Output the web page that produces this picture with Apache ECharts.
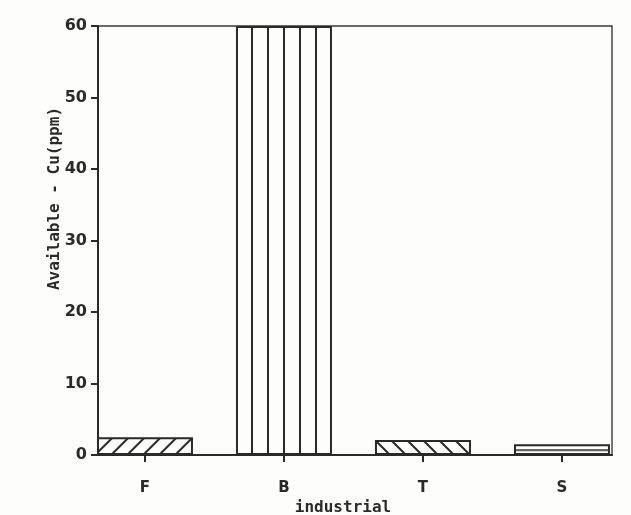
<!DOCTYPE html>
<html><head><meta charset="utf-8">
<script src="https://cdn.jsdelivr.net/npm/echarts@6/dist/echarts.min.js"></script>
<style>html,body{margin:0;padding:0;background:#fdfdfb}#c{width:631px;height:515px}</style>
</head><body><div id="c"></div>
<script>
// ---- data ----
const categories = ['F', 'B', 'T', 'S'];
const values = [2.5, 60, 2.1, 1.5];
const yTicks = [0, 10, 20, 30, 40, 50, 60];
const xName = 'industrial';
const yName = 'Available - Cu(ppm)';

// ---- styling ----
const ink = '#2a2a2a';
const barW = 96;

function makeCanvas(w, h, draw) {
  const c = document.createElement('canvas');
  c.width = w; c.height = h;
  const ctx = c.getContext('2d');
  ctx.strokeStyle = ink; ctx.fillStyle = ink; ctx.lineWidth = 2;
  draw(ctx, w, h);
  return c;
}
function diagPattern(dir, ox, oy) {
  const s = 16;
  const img = makeCanvas(s, s, (ctx) => {
    ctx.beginPath();
    if (dir > 0) { // "/"
      ctx.moveTo(-2, s + 2); ctx.lineTo(s + 2, -2);
      ctx.moveTo(-2, 2); ctx.lineTo(2, -2);
      ctx.moveTo(s - 2, s + 2); ctx.lineTo(s + 2, s - 2);
    } else { // "\"
      ctx.moveTo(-2, -2); ctx.lineTo(s + 2, s + 2);
      ctx.moveTo(s - 2, -2); ctx.lineTo(s + 2, 2);
      ctx.moveTo(-2, s - 2); ctx.lineTo(2, s + 2);
    }
    ctx.stroke();
  });
  return { image: img, repeat: 'repeat', x: ox, y: oy };
}
function vertPattern(ox) {
  const img = makeCanvas(16, 4, (ctx) => { ctx.fillRect(0, 0, 2, 4); });
  return { image: img, repeat: 'repeat', x: ox - 1, y: 0 };
}
function horizPattern(top, h) {
  const H = Math.max(2, Math.round(h));
  const img = makeCanvas(8, H, (ctx) => { ctx.fillRect(0, Math.round(H / 2) - 1, 8, 1.6); });
  return { image: img, repeat: 'repeat', x: 0, y: top };
}

const chart = echarts.init(document.getElementById('c'), null, { renderer: 'canvas' });
const idx = categories.map((_, i) => i);

function buildData(geom) {
  return values.map((v, i) => {
    let color = '#fdfdfb';
    if (geom) {
      const g = geom[i];
      if (i === 0) color = diagPattern(1, g.left, g.top);
      else if (i === 1) color = vertPattern(g.left);
      else if (i === 2) color = diagPattern(-1, g.left, g.top);
      else color = horizPattern(g.top, g.h);
    }
    return { value: [i, v], itemStyle: { color: color } };
  });
}

const option = {
  backgroundColor: '#fdfdfb',
  animation: false,
  grid: { left: 98, right: 19, top: 26, bottom: 60, outerBoundsMode: 'none', containLabel: false,
    show: true, borderColor: '#3a3a3a', borderWidth: 1.4, backgroundColor: 'transparent' },
  xAxis: {
    type: 'value', min: -0.338, max: 3.36,
    axisLine: { show: true, onZero: false, lineStyle: { color: ink, width: 2 } },
    axisTick: { show: true, customValues: idx, length: 7, lineStyle: { color: ink, width: 2 } },
    axisLabel: { customValues: idx, formatter: (v) => categories[Math.round(v)] || '', margin: 26,
      color: ink, fontFamily: 'DejaVu Sans', fontWeight: 'bold', fontSize: 15 },
    splitLine: { show: false },
    name: xName, nameLocation: 'middle', nameGap: 45, nameMoveOverlap: false,
    nameTextStyle: { color: ink, fontFamily: 'DejaVu Sans Mono', fontWeight: 'bold', fontSize: 16, padding: [0, 24, 0, 0] }
  },
  yAxis: {
    type: 'value', min: 0, max: 60, interval: 10,
    axisLine: { show: true, onZero: false, lineStyle: { color: ink, width: 2 } },
    axisTick: { show: true, length: 7, lineStyle: { color: ink, width: 2 } },
    axisLabel: { margin: 11, color: ink, fontFamily: 'DejaVu Sans', fontWeight: 'bold', fontSize: 16,
      formatter: (v) => yTicks.includes(v) ? String(v) : '' },
    splitLine: { show: false },
    name: yName, nameLocation: 'middle', nameGap: 35, nameMoveOverlap: false,
    nameTextStyle: { color: ink, fontFamily: 'DejaVu Sans Mono', fontWeight: 'bold', fontSize: 16, padding: [0, 0, 0, 84] }
  },
  series: [{
    type: 'bar', barWidth: barW,
    data: buildData(null),
    itemStyle: { borderColor: ink, borderWidth: 2 }
  }]
};
chart.setOption(option);

// align pattern origins to each bar
const geom = values.map((v, i) => {
  const p0 = chart.convertToPixel({ gridIndex: 0 }, [i, 0]);
  const p1 = chart.convertToPixel({ gridIndex: 0 }, [i, v]);
  return { left: p0[0] - barW / 2, top: p1[1], h: p0[1] - p1[1] };
});
chart.setOption({ series: [{ data: buildData(geom) }] });
</script>
</body></html>
